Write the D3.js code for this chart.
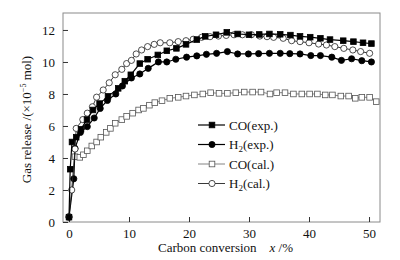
<!DOCTYPE html>
<html>
<head>
<meta charset="utf-8">
<script src="https://cdn.jsdelivr.net/npm/d3@7.9.0/dist/d3.min.js"></script>
<style>
  body { margin: 0; background: #fff; }
  svg { font-family: 'Liberation Serif', 'DejaVu Serif', serif; }
</style>
</head>
<body>
<svg id="chart" width="400" height="260"></svg>
<script>
// data: [carbon conversion %, gas release 1e-5 mol]
const coExp = [[0, 0.3], [0.2, 3.3], [0.5, 5.0], [1.2, 5.3], [2.0, 5.8], [3.0, 6.4], [4.0, 7.0], [5.1, 7.4],
  [6.5, 7.85], [8.2, 8.35], [9.3, 8.8], [10.3, 9.2], [11.8, 9.9], [13.1, 10.17], [14.8, 10.44],
  [16.3, 10.7], [17.9, 10.85], [19.5, 11.1], [21.3, 11.4], [22.7, 11.6], [24.5, 11.7], [26.3, 11.85],
  [28.1, 11.75], [30.0, 11.7], [31.7, 11.72], [33.4, 11.75], [35.2, 11.73], [36.9, 11.68], [38.5, 11.6],
  [40.2, 11.55], [41.9, 11.48], [43.5, 11.4], [45.7, 11.33], [47.4, 11.27], [49.0, 11.2], [50.4, 11.15]];
const h2Exp = [[0, 0.3], [0.8, 2.7], [1.0, 4.6], [1.9, 5.6], [3.05, 5.96], [4.2, 6.5], [5.2, 7.1], [6.4, 7.6],
  [7.8, 8.0], [8.9, 8.5], [10.4, 9.0], [11.8, 9.25], [13.2, 9.6], [14.9, 10.0], [16.3, 10.0], [17.8, 10.17],
  [19.6, 10.3], [21.3, 10.38], [22.9, 10.48], [24.6, 10.54], [26.4, 10.65], [28.1, 10.5], [29.9, 10.5],
  [31.6, 10.52], [33.4, 10.54], [35.2, 10.54], [36.8, 10.52], [38.5, 10.5], [40.3, 10.4], [41.9, 10.4],
  [43.8, 10.3], [45.4, 10.1], [47.1, 10.2], [48.8, 10.08], [50.4, 10.0]];
const coCal = [[1.0, 4.08], [1.8, 4.04], [2.4, 4.2], [3.05, 4.45], [3.8, 4.75], [4.6, 5.0], [5.3, 5.3],
  [6.2, 5.6], [6.9, 5.85], [7.7, 6.17], [8.8, 6.4], [9.6, 6.6], [10.6, 6.8], [11.6, 7.0], [12.4, 7.1],
  [13.4, 7.3], [14.3, 7.46], [15.5, 7.58], [16.8, 7.73], [18.2, 7.79], [19.5, 7.87], [20.9, 7.94],
  [22.3, 8.0], [23.6, 8.08], [25.0, 8.04], [26.4, 8.04], [27.8, 8.08], [29.2, 8.12], [30.6, 8.12],
  [32.0, 8.12], [33.5, 8.0], [34.6, 8.08], [36.0, 8.08], [37.4, 8.0], [38.8, 8.0], [40.1, 8.0],
  [41.4, 8.0], [42.7, 7.94], [43.9, 7.94], [45.3, 7.87], [46.6, 7.87], [47.7, 7.73], [48.8, 7.79],
  [50.1, 7.79], [51.2, 7.52]];
const h2Cal = [[0, 0.35], [0.45, 2.0], [1.0, 4.56], [1.2, 5.85], [2.3, 6.4], [3.05, 6.8], [3.9, 7.2],
  [4.6, 7.8], [5.7, 8.25], [6.7, 8.7], [7.7, 9.2], [8.8, 9.54], [9.6, 9.9], [10.4, 10.1], [11.2, 10.5],
  [12.1, 10.75], [13.1, 10.96], [14.2, 11.1], [15.2, 11.2], [16.8, 11.2], [18.2, 11.27], [19.5, 11.33],
  [20.7, 11.42], [22.1, 11.54], [23.5, 11.58], [24.9, 11.62], [26.2, 11.66], [27.5, 11.7], [28.9, 11.7],
  [30.4, 11.7], [31.8, 11.62], [33.0, 11.58], [34.1, 11.54], [35.7, 11.48], [37.1, 11.33], [38.5, 11.27],
  [40.0, 11.2], [41.6, 11.12], [42.9, 11.06], [44.3, 10.96], [45.8, 10.85], [47.3, 10.75], [48.6, 10.65],
  [50.1, 10.54]];
const xTicks = [0, 10, 20, 30, 40, 50];
const yTicks = [0, 2, 4, 6, 8, 10, 12];
const legendLabels = ['CO(exp.)', 'H2(exp.)', 'CO(cal.)', 'H2(cal.)'];

const svg = d3.select('#chart');
const plot = { left: 63, right: 380, top: 13, bottom: 222 };

const xScale = d3.scaleLinear().domain([-1, 51.83]).range([plot.left, plot.right]);
const yScale = d3.scaleLinear().domain([0, 13.06]).range([plot.bottom, plot.top]);

// frame
svg.append('rect')
  .attr('x', plot.left).attr('y', plot.top)
  .attr('width', plot.right - plot.left).attr('height', plot.bottom - plot.top)
  .attr('fill', 'none').attr('stroke', '#8a8a8a').attr('stroke-width', 1);

const xAxis = svg.append('g')
  .attr('transform', `translate(0, ${plot.bottom})`)
  .call(d3.axisBottom(xScale).tickValues(xTicks).tickSizeInner(-5).tickSizeOuter(0).tickPadding(7));
const yAxis = svg.append('g')
  .attr('transform', `translate(${plot.left}, 0)`)
  .call(d3.axisLeft(yScale).tickValues(yTicks).tickSizeInner(-5).tickSizeOuter(0).tickPadding(8));

[xAxis, yAxis].forEach((g) => {
  g.select('.domain').remove();
  g.selectAll('.tick line').attr('stroke', '#333');
  g.selectAll('.tick text').attr('font-size', 13).attr('fill', '#111')
    .attr('font-family', "'Liberation Serif', serif");
});

const line = d3.line().x((d) => xScale(d[0])).y((d) => yScale(d[1]));

const series = [
  { data: coCal, shape: 'square', fill: '#fff', stroke: '#555', lineColor: '#666', lw: 0.8 },
  { data: h2Exp, shape: 'circle', fill: '#000', stroke: '#000', lineColor: '#000', lw: 1.2 },
  { data: h2Cal, shape: 'circle', fill: '#fff', stroke: '#222', lineColor: '#222', lw: 0.9 },
  { data: coExp, shape: 'square', fill: '#000', stroke: '#000', lineColor: '#000', lw: 1.2 },
];

function drawMarker(g, s, x, y) {
  if (s.shape === 'square') {
    g.append('rect').attr('x', x - 2.8).attr('y', y - 2.8).attr('width', 5.6).attr('height', 5.6)
      .attr('fill', s.fill).attr('stroke', s.stroke).attr('stroke-width', 0.8);
  } else {
    g.append('circle').attr('cx', x).attr('cy', y).attr('r', 3.1)
      .attr('fill', s.fill).attr('stroke', s.stroke).attr('stroke-width', 0.8);
  }
}

series.forEach((s) => {
  svg.append('path').datum(s.data).attr('d', line)
    .attr('fill', 'none').attr('stroke', s.lineColor).attr('stroke-width', s.lw);
  const g = svg.append('g');
  s.data.forEach((d) => drawMarker(g, s, xScale(d[0]), yScale(d[1])));
});

// legend
const legendOrder = [series[3], series[1], series[0], series[2]];
const legend = svg.append('g');
legendOrder.forEach((s, i) => {
  const y = 125 + i * 19.5;
  legend.append('line').attr('x1', 198).attr('x2', 225).attr('y1', y).attr('y2', y)
    .attr('stroke', s.lineColor).attr('stroke-width', s.lw);
  drawMarker(legend, s, 212, y);
  const t = legend.append('text').attr('x', 229).attr('y', y + 4.5)
    .attr('font-size', 13).attr('fill', '#111');
  const label = legendLabels[i];
  if (label.startsWith('H2')) {
    t.append('tspan').text('H');
    t.append('tspan').attr('font-size', 9).attr('dy', 3).text('2');
    t.append('tspan').attr('dy', -3).text(label.slice(2));
  } else {
    t.text(label);
  }
});

// axis titles
const yTitle = svg.append('text')
  .attr('transform', `translate(31, ${(plot.top + plot.bottom) / 2 + 2}) rotate(-90)`)
  .attr('text-anchor', 'middle').attr('font-size', 13).attr('fill', '#111');
yTitle.append('tspan').text('Gas release /(×10');
yTitle.append('tspan').attr('font-size', 8).attr('dy', -5).text('−5');
yTitle.append('tspan').attr('dy', 5).text(' mol)');

const xTitle = svg.append('text')
  .attr('x', 158).attr('y', 252).attr('font-size', 13).attr('fill', '#111');
xTitle.append('tspan').text('Carbon conversion');
xTitle.append('tspan').attr('dx', 13).attr('font-style', 'italic').text('x');
xTitle.append('tspan').text(' /%');
</script>
</body>
</html>
